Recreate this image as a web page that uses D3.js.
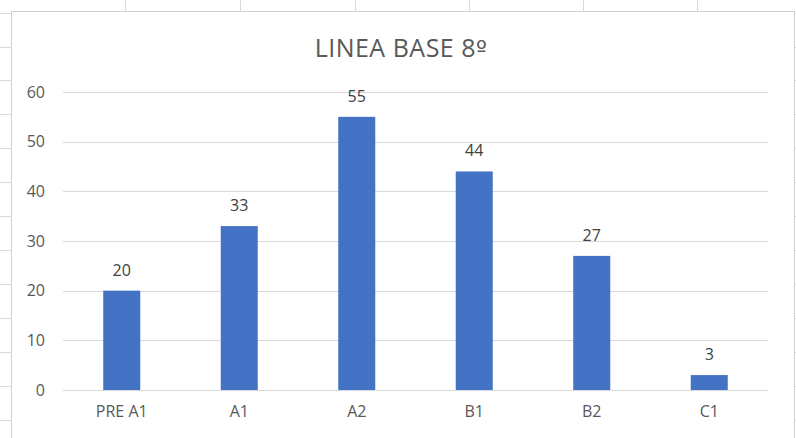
<!DOCTYPE html>
<html>
<head>
<meta charset="utf-8">
<script src="https://cdn.jsdelivr.net/npm/d3@7"></script>
<style>
  body { margin: 0; background: #fff; }
  svg { display: block; font-family: "Open Sans", "Liberation Sans", sans-serif; }
</style>
</head>
<body>
<svg id="chart" width="796" height="438"></svg>
<script>
// Chart data
const categories = ["PRE A1", "A1", "A2", "B1", "B2", "C1"];
const values = [20, 33, 55, 44, 27, 3];
const yTicks = [0, 10, 20, 30, 40, 50, 60];
const chartTitle = "LINEA BASE 8";
const titleSuffix = "º";

// Spreadsheet cell grid behind the chart
const sheetCols = [125, 240, 355, 469, 583, 697];
const sheetRows = [13, 47, 80, 114, 148, 182, 216, 250, 284, 318, 352, 386, 420];

const svg = d3.select("#chart");

// Spreadsheet grid lines
svg.append("g").selectAll("line").data(sheetCols).enter().append("line")
    .attr("x1", d => d + 0.5).attr("x2", d => d + 0.5)
    .attr("y1", 0).attr("y2", 438)
    .attr("stroke", "#dadada");
svg.append("g").selectAll("line").data(sheetRows).enter().append("line")
    .attr("x1", 0).attr("x2", 796)
    .attr("y1", d => d + 0.5).attr("y2", d => d + 0.5)
    .attr("stroke", "#dadada");

// Chart area box
svg.append("rect")
    .attr("x", 11.5).attr("y", 11.5)
    .attr("width", 783).attr("height", 440)
    .attr("fill", "#fff")
    .attr("stroke", "#d0d0d0");

const plot = { left: 63, right: 768, top: 92, bottom: 390 };

const x = d3.scaleBand()
    .domain(categories)
    .range([plot.left, plot.right])
    .paddingInner(0.685)
    .paddingOuter(0.3425);

const y = d3.scaleLinear()
    .domain([0, 60])
    .range([plot.bottom, plot.top]);

// Horizontal gridlines
svg.append("g").selectAll("line").data(yTicks).enter().append("line")
    .attr("x1", plot.left).attr("x2", plot.right)
    .attr("y1", d => Math.round(y(d)) + 0.5).attr("y2", d => Math.round(y(d)) + 0.5)
    .attr("stroke", "#d9d9d9");

// Y axis labels
const yAxis = svg.append("g")
    .attr("transform", `translate(${plot.left - 18},0)`)
    .call(d3.axisLeft(y).tickValues(yTicks).tickSize(0).tickPadding(0));
yAxis.select(".domain").remove();
yAxis.selectAll("text")
    .attr("fill", "#595959")
    .attr("font-size", "16px")
    .attr("font-family", "Open Sans, sans-serif");

// X axis labels
const xAxis = svg.append("g")
    .attr("transform", `translate(0,${plot.bottom + 16})`)
    .call(d3.axisBottom(x).tickSize(0).tickPadding(0));
xAxis.select(".domain").remove();
xAxis.selectAll("text")
    .attr("fill", "#595959")
    .attr("font-size", "16px")
    .attr("font-family", "Open Sans, sans-serif");

// Bars
svg.append("g").selectAll("rect").data(values).enter().append("rect")
    .attr("x", (d, i) => x(categories[i]))
    .attr("y", d => y(d))
    .attr("width", x.bandwidth())
    .attr("height", d => y(0) - y(d))
    .attr("fill", "#4472c4");

// Data labels
svg.append("g").selectAll("text").data(values).enter().append("text")
    .attr("x", (d, i) => x(categories[i]) + x.bandwidth() / 2)
    .attr("y", d => y(d) - 15)
    .attr("text-anchor", "middle")
    .attr("fill", "#404040")
    .attr("font-size", "16px")
    .text(d => d);

// Title
const title = svg.append("text")
    .attr("x", 401)
    .attr("y", 57)
    .attr("text-anchor", "middle")
    .attr("fill", "#595959")
    .attr("font-size", "25px")
    .attr("letter-spacing", "0.5px");
title.append("tspan").text(chartTitle);
title.append("tspan").attr("font-family", "DejaVu Sans").attr("font-size", "23px").text(titleSuffix);
</script>
</body>
</html>
